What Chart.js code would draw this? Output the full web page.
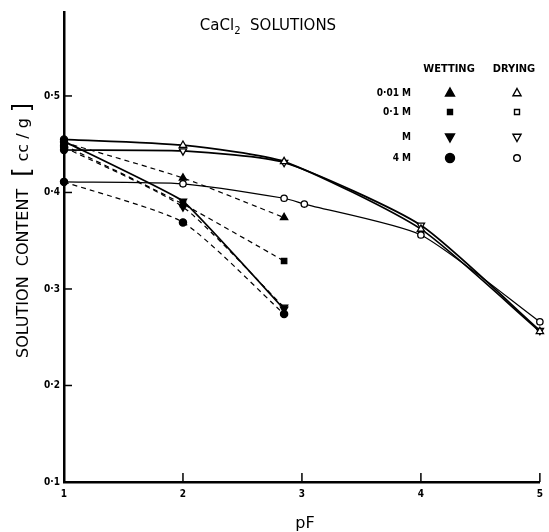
<!DOCTYPE html>
<html>
<head>
<meta charset="utf-8">
<script src="https://cdn.jsdelivr.net/npm/chart.js@4"></script>
<style>
  html, body { margin: 0; padding: 0; background: #fff; }
  #wrap { width: 549px; height: 532px; }
</style>
</head>
<body>
<div id="wrap"><canvas id="chart"></canvas></div>
<script>
// pF (x) against solution content in cc/g (y)
const pfDry = [1, 2, 2.85, 4, 5];
const dry001 = [0.455, 0.449, 0.432, 0.362, 0.256];
const dryM = [0.444, 0.443, 0.431, 0.366, 0.257];
const pfDry4M = [1, 2, 2.85, 3.02, 4, 5];
const dry4M = [0.411, 0.409, 0.394, 0.388, 0.356, 0.266];

const pfWet = [1, 2, 2.85];
const wet001 = [0.452, 0.415, 0.374];
const wet01 = [0.449, 0.388, 0.329];
const wetM = [0.447, 0.385, 0.281];
const wetMSolid = [0.453, 0.391, 0.279];
const wet4M = [0.411, 0.369, 0.274];

const xTicks = [1, 2, 3, 4, 5];
const yTicks = [0.1, 0.2, 0.3, 0.4, 0.5];

const concLabels = ["0·01 M", "0·1 M", "M", "4 M"];
const concMarks = ["triangle", "rect", "down", "circle"];

const FONT = '"DejaVu Sans", "Liberation Sans", sans-serif';
const COND = '"DejaVu Sans Condensed", "DejaVu Sans", sans-serif';

const pts = (xs, ys) => xs.map((x, i) => ({ x, y: ys[i] }));

function series(xs, ys, mark, filled, extra) {
  return Object.assign({
    data: pts(xs, ys),
    borderColor: "#000",
    borderWidth: 1.5,
    tension: 0.2,
    clip: false,
    pointBorderColor: "#000",
    pointBorderWidth: 1.3,
    // first point (pF 1) is drawn as a solid dot for every curve
    pointStyle: c => c.dataIndex === 0 ? "circle" : (mark === "down" ? "triangle" : mark),
    pointRotation: c => (mark === "down" && c.dataIndex !== 0) ? 180 : 0,
    pointBackgroundColor: c => (filled || c.dataIndex === 0) ? "#000" : "#fff",
    pointRadius: c => c.dataIndex === 0 ? 3.5 : (mark === "rect" ? 3.8 : mark === "circle" ? (filled ? 3.6 : 3.2) : 4.2),
    pointHoverRadius: 4
  }, extra || {});
}

const dash = { borderDash: [5, 4], borderWidth: 1.2 };

const datasets = [
  series(pfWet, wet001, "triangle", true, dash),
  series(pfWet, wet01, "rect", true, dash),
  series(pfWet, wetM, "down", true, dash),
  series(pfWet, wet4M, "circle", true, dash),
  series(pfWet, wetMSolid, "down", true, { borderWidth: 1.8, tension: 0.1 }),
  series(pfDry, dry001, "triangle", false, { borderWidth: 1.7 }),
  series(pfDry, dryM, "down", false, { borderWidth: 1.7 }),
  series(pfDry4M, dry4M, "circle", false, { borderWidth: 1.2 })
];

function mark(ctx, style, x, y, r, filled) {
  ctx.beginPath();
  if (style === "circle") {
    ctx.arc(x, y, r, 0, Math.PI * 2);
  } else if (style === "rect") {
    ctx.rect(x - r, y - r, r * 2, r * 2);
  } else {
    const s = style === "down" ? -1 : 1;
    ctx.moveTo(x, y - s * r);
    ctx.lineTo(x + r * 0.9, y + s * r * 0.6);
    ctx.lineTo(x - r * 0.9, y + s * r * 0.6);
    ctx.closePath();
  }
  ctx.fillStyle = filled ? "#000" : "#fff";
  ctx.fill();
  ctx.stroke();
}

const decorations = {
  id: "decorations",
  afterDraw(chart) {
    const { ctx, chartArea, scales: { x, y } } = chart;
    ctx.save();
    ctx.strokeStyle = "#000";
    ctx.fillStyle = "#000";
    ctx.lineWidth = 1.5;

    // tick marks point inward
    yTicks.forEach(v => {
      const py = y.getPixelForValue(v);
      ctx.beginPath();
      ctx.moveTo(chartArea.left, py);
      ctx.lineTo(chartArea.left + 8, py);
      ctx.stroke();
    });
    xTicks.forEach(v => {
      const px = x.getPixelForValue(v);
      ctx.beginPath();
      ctx.moveTo(px, chartArea.bottom);
      ctx.lineTo(px, chartArea.bottom - 9);
      ctx.stroke();
    });

    // title with subscript
    ctx.textBaseline = "alphabetic";
    ctx.textAlign = "left";
    const big = "15px " + FONT, small = "10px " + FONT;
    ctx.font = big;
    const w1 = ctx.measureText("CaCl").width;
    const w3 = ctx.measureText("  SOLUTIONS").width;
    ctx.font = small;
    const w2 = ctx.measureText("2").width;
    let tx = 268 - (w1 + w2 + w3) / 2;
    ctx.font = big;
    ctx.fillText("CaCl", tx, 30);
    ctx.font = small;
    ctx.fillText("2", tx + w1, 34);
    ctx.font = big;
    ctx.fillText("  SOLUTIONS", tx + w1 + w2, 30);

    // x axis title
    ctx.textAlign = "center";
    ctx.textBaseline = "middle";
    ctx.font = "16px " + FONT;
    ctx.fillText("pF", 305, 524);

    // y axis title
    ctx.save();
    ctx.translate(24, 358);
    ctx.rotate(-Math.PI / 2);
    ctx.textAlign = "left";
    ctx.font = "16px " + FONT;
    const main = "SOLUTION  CONTENT";
    ctx.fillText(main, 0, 0);
    let off = ctx.measureText(main).width + 12;
    ctx.font = "24px " + FONT;
    ctx.fillText("[", off, 0);
    off += ctx.measureText("[").width + 6;
    ctx.font = "16px " + FONT;
    ctx.fillText("cc / g", off, 0);
    off += ctx.measureText("cc / g").width + 6;
    ctx.font = "24px " + FONT;
    ctx.fillText("]", off, 0);
    ctx.restore();

    // legend table
    ctx.font = "bold 11px " + COND;
    ctx.textAlign = "center";
    ctx.fillText("WETTING", 449, 69);
    ctx.fillText("DRYING", 514, 69);
    ctx.font = "bold 10px " + COND;
    const rows = [93, 112, 137, 158];
    ctx.lineWidth = 1.4;
    concLabels.forEach((lab, i) => {
      ctx.textAlign = "right";
      ctx.fillStyle = "#000";
      ctx.fillText(lab, 411, rows[i]);
      const m = concMarks[i];
      const r = m === "rect" ? 2.5 : m === "circle" ? 4.5 : 5;
      mark(ctx, m, 450, rows[i], r, true);
      const ro = m === "rect" ? 2.5 : m === "circle" ? 3.3 : 4.5;
      mark(ctx, m, 517, rows[i], ro, false);
    });
    ctx.restore();
  }
};

new Chart(document.getElementById("chart"), {
  type: "line",
  data: { datasets },
  options: {
    responsive: true,
    maintainAspectRatio: false,
    animation: false,
    layout: { padding: { top: 12, right: 6, left: 0, bottom: 0 } },
    plugins: { legend: { display: false }, tooltip: { enabled: false } },
    scales: {
      x: {
        type: "linear",
        min: 1,
        max: 5,
        afterBuildTicks: s => { s.ticks = xTicks.map(v => ({ value: v })); },
        afterFit: s => { s.height = 50; },
        grid: { display: false, drawTicks: false },
        border: { display: true, color: "#000", width: 2.5 },
        ticks: { padding: 6, color: "#000", font: { family: COND, size: 10, weight: "bold" } }
      },
      y: {
        type: "linear",
        min: 0.1,
        max: 0.587,
        afterBuildTicks: s => { s.ticks = yTicks.map(v => ({ value: v })); },
        afterFit: s => { s.width = 64; },
        grid: { display: false, drawTicks: false },
        border: { display: true, color: "#000", width: 2.5 },
        ticks: {
          padding: 4,
          color: "#000",
          font: { family: COND, size: 10, weight: "bold" },
          callback: v => v.toFixed(1).replace(".", "·")
        }
      }
    }
  },
  plugins: [decorations]
});
</script>
</body>
</html>
